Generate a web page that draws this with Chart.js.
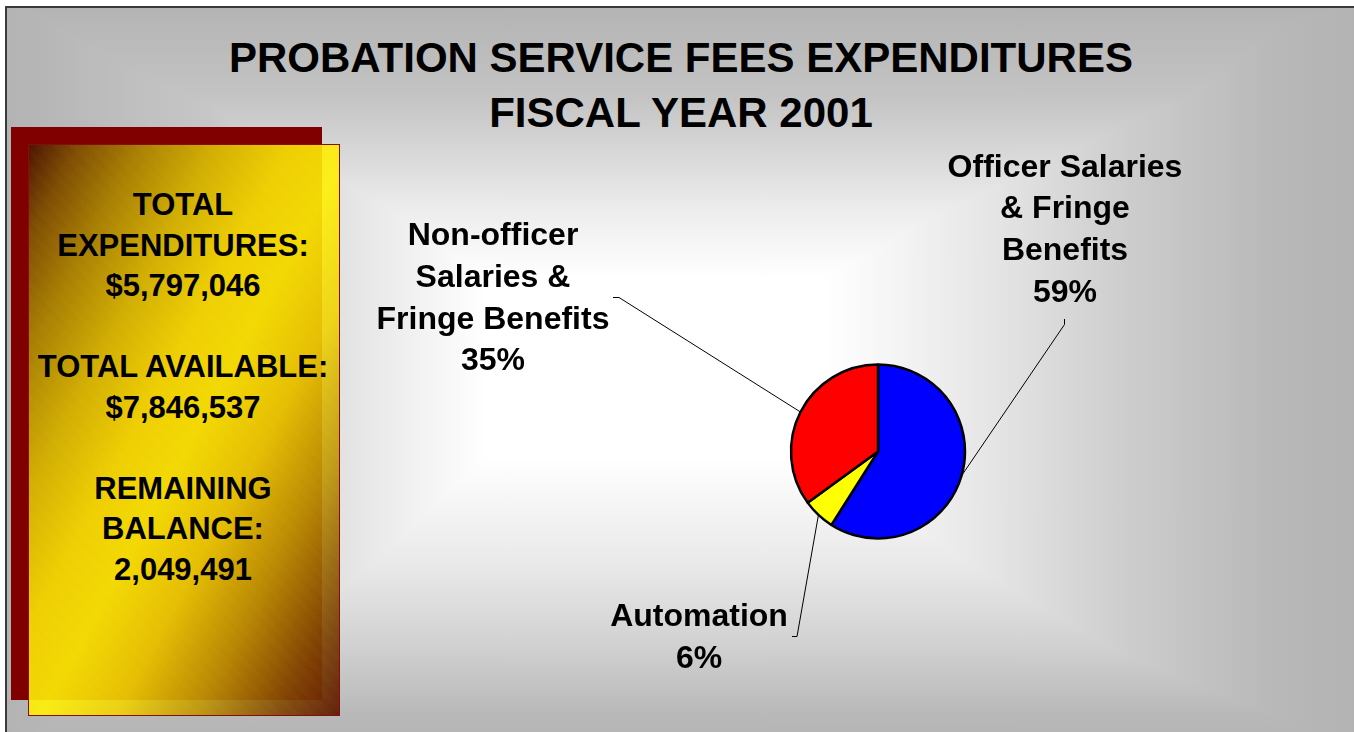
<!DOCTYPE html>
<html>
<head>
<meta charset="utf-8">
<script src="https://cdn.jsdelivr.net/npm/chart.js@4/dist/chart.umd.min.js"></script>
<style>
  html, body { margin: 0; padding: 0; width: 1354px; height: 732px; overflow: hidden; background: #ffffff; }
  body { position: relative; font-family: "Liberation Sans", Arial, Helvetica, sans-serif; font-weight: bold; color: #000; }
  #slide {
    position: absolute; left: 5px; top: 6px; width: 1360px; height: 740px;
    border-left: 2px solid #3a3a3a; border-top: 2px solid #3a3a3a;
    background-image:
      linear-gradient(to right, #b3b3b3 0px, #c6c6c6 200px, #e8e8e8 360px, #ffffff 480px, #ffffff 820px, #e6e6e6 980px, #cdcdcd 1120px, #b9b9b9 1260px, #b2b2b2 1360px),
      linear-gradient(to bottom, #b4b4b4 0px, #c4c4c4 90px, #ececec 200px, #ffffff 270px, #ffffff 450px, #e8e8e8 560px, #d0d0d0 640px, #b9b9b9 705px, #b3b3b3 740px);
    background-blend-mode: darken;
  }
  #shadowBox { position: absolute; left: 11px; top: 127px; width: 311px; height: 573px; background: #800000; }
  #infoBox {
    position: absolute; left: 28px; top: 144px; width: 310px; height: 570px;
    border: 1px solid #8b0a0a;
    background-image:
      repeating-linear-gradient(45deg, rgba(255,255,255,0.035) 0px, rgba(255,255,255,0.035) 1px, rgba(0,0,0,0) 1px, rgba(0,0,0,0) 2px),
      linear-gradient(to bottom right, rgba(72,18,0,0.95) 0%, rgba(125,82,0,0.92) 8%, rgba(172,140,0,0.9) 18%, rgba(218,192,0,0.9) 30%, rgba(250,228,0,0.9) 42%, rgba(255,240,0,0.9) 52%, rgba(240,210,0,0.9) 64%, rgba(190,148,0,0.9) 77%, rgba(128,70,0,0.92) 90%, rgba(92,22,0,0.95) 100%);
  }
  #infoText { position: absolute; left: 33px; top: 185px; width: 300px; text-align: center; font-size: 31px; line-height: 40.5px; white-space: nowrap; }
  #title { position: absolute; left: 181px; top: 30px; width: 1000px; text-align: center; font-size: 42px; line-height: 55px; white-space: nowrap; }
  .plabel { position: absolute; width: 400px; text-align: center; font-size: 32px; line-height: 41.8px; white-space: nowrap; }
  #chartCanvas { position: absolute; left: 0; top: 0; }
</style>
</head>
<body>
<div id="slide"></div>
<div id="shadowBox"></div>
<div id="infoBox"></div>
<div id="infoText"></div>
<div id="title"></div>
<canvas id="chartCanvas" width="1354" height="732"></canvas>
<div id="labels"></div>
<script>
// ---- data ----
const titleLines = ["PROBATION SERVICE FEES EXPENDITURES", "FISCAL YEAR 2001"];
const summaryLines = ["TOTAL", "EXPENDITURES:", "$5,797,046", "", "TOTAL AVAILABLE:", "$7,846,537", "", "REMAINING", "BALANCE:", "2,049,491"];
const categories = ["Officer Salaries & Fringe Benefits", "Automation", "Non-officer Salaries & Fringe Benefits"];
const categoryLines = [["Officer Salaries", "& Fringe", "Benefits"], ["Automation"], ["Non-officer", "Salaries &", "Fringe Benefits"]];
const percentValues = [59, 6, 35];
const sliceColors = ["#0000ff", "#ffff00", "#ff0000"];

// ---- layout (positions only) ----
const labelBoxes = [ {cx: 1065, top: 145.5}, {cx: 699, top: 595}, {cx: 493, top: 214} ];
const leaderAnchors = [
  {x: 1064.5, y: 319, kx: 1064.5, ky: 324.5},
  {x: 792, y: 636.5, kx: 797, ky: 636.5},
  {x: 613, y: 297.5, kx: 619, ky: 297.5}
];

// ---- texts ----
function esc(s){ return s.replace(/&/g, "&amp;").replace(/</g, "&lt;"); }
document.getElementById("title").innerHTML = titleLines.map(esc).join("<br>");
document.getElementById("infoText").innerHTML = summaryLines.map(l => l === "" ? "&nbsp;" : esc(l)).join("<br>");
const labelsDiv = document.getElementById("labels");
categoryLines.forEach((lines, i) => {
  const d = document.createElement("div");
  d.className = "plabel";
  d.style.left = (labelBoxes[i].cx - 200) + "px";
  d.style.top = labelBoxes[i].top + "px";
  d.innerHTML = lines.concat([percentValues[i] + "%"]).map(esc).join("<br>");
  labelsDiv.appendChild(d);
});

// ---- leader lines plugin ----
const leaderPlugin = {
  id: "leaders",
  afterDatasetsDraw(chart) {
    const ctx = chart.ctx;
    const meta = chart.getDatasetMeta(0);
    ctx.save();
    ctx.strokeStyle = "#000";
    ctx.lineWidth = 1;
    meta.data.forEach((arc, i) => {
      const p = arc.getProps(["x", "y", "startAngle", "endAngle", "outerRadius"], true);
      const mid = (p.startAngle + p.endAngle) / 2;
      const ex = p.x + Math.cos(mid) * p.outerRadius;
      const ey = p.y + Math.sin(mid) * p.outerRadius;
      const a = leaderAnchors[i];
      ctx.beginPath();
      ctx.moveTo(a.x, a.y);
      ctx.lineTo(a.kx, a.ky);
      ctx.lineTo(ex, ey);
      ctx.stroke();
    });
    ctx.restore();
  }
};

new Chart(document.getElementById("chartCanvas"), {
  type: "pie",
  data: {
    labels: categories,
    datasets: [{
      data: percentValues,
      backgroundColor: sliceColors,
      borderColor: "#000000",
      borderWidth: 2.5,
      radius: 87
    }]
  },
  options: {
    responsive: false,
    devicePixelRatio: 1,
    animation: false,
    layout: { padding: { left: 700, right: 298, top: 300, bottom: 129 } },
    plugins: { legend: { display: false }, tooltip: { enabled: false }, title: { display: false } },
    events: []
  },
  plugins: [leaderPlugin]
});
</script>
</body>
</html>
